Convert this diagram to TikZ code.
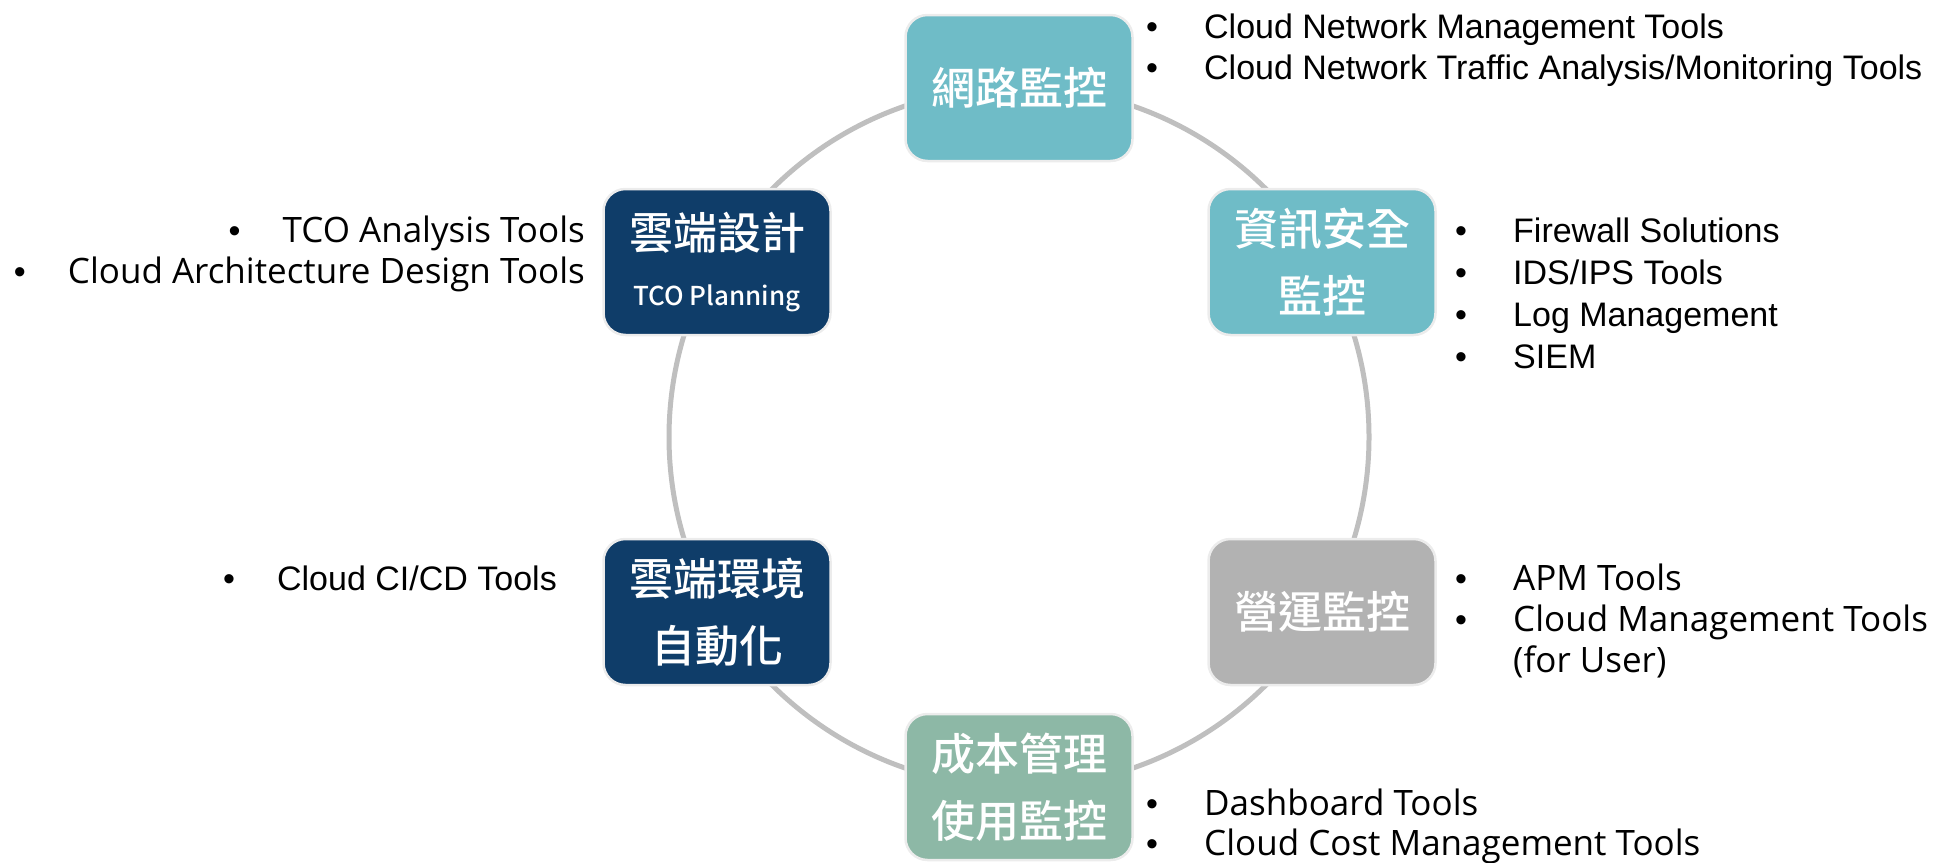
\documentclass[tikz,border=0pt]{standalone}
\usepackage{fontspec}
\setmainfont{Liberation Sans}
\newfontfamily\cjk{Noto Sans CJK TC Medium}
\newfontfamily\seg{Open Sans}
\definecolor{tealbox}{HTML}{6FBCC7}
\definecolor{navybox}{HTML}{0F3D69}
\definecolor{graybox}{HTML}{B2B2B2}
\definecolor{sagebox}{HTML}{8DB8A6}
\definecolor{ringgray}{HTML}{BFBFBF}
\newcommand\bl{\makebox[58pt][l]{\rmfamily\fontsize{34}{34}\selectfont •}}
\newcommand\bls{\makebox[54pt][l]{\rmfamily\fontsize{34}{34}\selectfont •}}
\begin{document}
\begin{tikzpicture}[x=1pt,y=-1pt,
  ring/.style={draw=ringgray,line width=5pt},
  box/.style={rounded corners=22pt,minimum width=227pt,minimum height=146pt,
    draw=gray!15,line width=2.5pt,text=white,align=center,inner sep=0pt,
    font=\cjk\fontsize{44}{67}\selectfont},
  arial/.style={inner sep=0pt,font=\fontsize{34}{41}\selectfont},
  segoe/.style={inner sep=0pt,font=\seg\fontsize{35}{41}\selectfont}]
\useasboundingbox (0,0) rectangle (1942,862);
\coordinate (c) at (1019,437);
\draw[ring] (c) circle (350);
\node[box,fill=tealbox] (net) at (1019,88) {網路監控};
\node[box,fill=tealbox] (sec) at (1322,262) {資訊安全\\監控};
\node[box,fill=graybox] (ops) at (1322,612) {營運監控};
\node[box,fill=sagebox] (cost) at (1019,787) {成本管理\\使用監控};
\node[box,fill=navybox] (auto) at (717,612) {雲端環境\\自動化};
\node[box,fill=navybox,font=\cjk\fontsize{44}{56}\selectfont] (design) at (717,262)
  {雲端設計\\{\fontsize{26}{30}\selectfont TCO Planning}};
% lists
\node[arial,anchor=base west] (netl) at (1146,38)
  {\begin{tabular}[t]{@{}l@{}}\bl Cloud Network Management Tools\\
   \bl Cloud Network Traffic Analysis/Monitoring Tools\end{tabular}};
\node[arial,anchor=base west,font=\fontsize{34}{42}\selectfont] (secl) at (1455,242)
  {\begin{tabular}[t]{@{}l@{}}\bl Firewall Solutions\\ \bl IDS/IPS Tools\\
   \bl Log Management\\ \bl SIEM\end{tabular}};
\node[segoe,anchor=base west] (opsl) at (1455,590)
  {\begin{tabular}[t]{@{}l@{}}\bl APM Tools\\ \bl Cloud Management Tools\\
   \makebox[58pt]{}(for User)\end{tabular}};
\node[segoe,anchor=base west,font=\seg\fontsize{35}{40}\selectfont] (costl) at (1146,815)
  {\begin{tabular}[t]{@{}l@{}}\bl Dashboard Tools\\ \bl Cloud Cost Management Tools\end{tabular}};
\node[segoe,anchor=base east] (designl) at (585,242)
  {\begin{tabular}[t]{@{}r@{}}\bls TCO Analysis Tools\\ \bls Cloud Architecture Design Tools\end{tabular}};
\node[arial,anchor=base east] (autol) at (557,590)
  {\bls Cloud CI/CD Tools};
\end{tikzpicture}
\end{document}
